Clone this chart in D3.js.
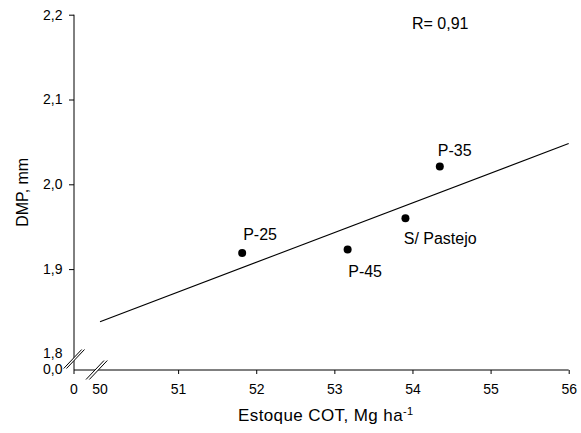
<!DOCTYPE html>
<html><head><meta charset="utf-8">
<script src="https://cdn.jsdelivr.net/npm/d3@7"></script>
<style>
body{margin:0;background:#fff}
text{font-family:"Liberation Sans",Arial,sans-serif;fill:#000}
</style>
</head><body>
<svg id="c" width="581" height="433"></svg>
<script>
// ---- data ----
const treatments = ["P-25", "P-45", "S/ Pastejo", "P-35"];
const cot = [51.82, 53.17, 53.91, 54.35];      // Estoque COT, Mg ha-1
const dmp = [1.919, 1.923, 1.960, 2.021];      // DMP, mm
const fitX = [50, 56];
const fitY = [1.838, 2.048];
const xTicks = [51, 52, 53, 54, 55, 56];
const yTicks = [1.9, 2.0, 2.1, 2.2];
const xBreakLabels = ["0", "50"];
const yBreakLabels = ["1,8", "0,0"];
const rLabel = "R= 0,91";
const xTitle = "Estoque COT, Mg ha";
const xTitleSup = "-1";
const yTitle = "DMP, mm";

// ---- layout (presentation only) ----
const pLeft = 74, pRight = 568.7, pTop = 14.7, axisY = 370;
const labelOffset = [[1, -12.7], [0.6, 27.4], [-1.7, 26], [-2, -10.7]];

const svg = d3.select("#c");
const x = d3.scaleLinear().domain([50, 56]).range([100, pRight]);
const y = d3.scaleLinear().domain([1.8, 2.2]).range([353.9, pTop]);
const fmt = d => d3.format(".1f")(d).replace(".", ",");

// axes lines
svg.append("line").attr("x1", pLeft).attr("x2", pLeft).attr("y1", pTop).attr("y2", axisY)
  .attr("stroke", "#000").attr("stroke-width", 1);
svg.append("line").attr("x1", pLeft).attr("x2", pRight).attr("y1", axisY).attr("y2", axisY)
  .attr("stroke", "#000").attr("stroke-width", 1);

// x axis
const gx = svg.append("g").attr("transform", `translate(0,${axisY})`)
  .call(d3.axisBottom(x).tickValues(xTicks).tickSize(4).tickPadding(10).tickFormat(d => d));
gx.select(".domain").remove();
gx.selectAll("text").style("font-size", "14px").attr("fill", "#000");
gx.selectAll("line").attr("stroke", "#000");
svg.append("line").attr("x1", pLeft).attr("x2", pLeft).attr("y1", axisY).attr("y2", axisY + 4).attr("stroke", "#000");
svg.append("text").attr("x", pLeft).attr("y", axisY + 24).attr("text-anchor", "middle")
  .style("font-size", "14px").text(xBreakLabels[0]);
svg.append("text").attr("x", x(50)).attr("y", axisY + 24).attr("text-anchor", "middle")
  .style("font-size", "14px").text(xBreakLabels[1]);

// y axis
const gy = svg.append("g").attr("transform", `translate(${pLeft},0)`)
  .call(d3.axisLeft(y).tickValues(yTicks).tickSize(5).tickPadding(6.5).tickFormat(fmt));
gy.select(".domain").remove();
gy.selectAll("text").style("font-size", "14px").attr("fill", "#000");
gy.selectAll("line").attr("stroke", "#000");
svg.append("text").attr("x", pLeft - 11.5).attr("y", y(1.8)).attr("dy", "0.32em").attr("text-anchor", "end")
  .style("font-size", "14px").text(yBreakLabels[0]);
svg.append("text").attr("x", pLeft - 11.5).attr("y", axisY).attr("dy", "0.32em").attr("text-anchor", "end")
  .style("font-size", "14px").text(yBreakLabels[1]);

// break marks
function breakMark(cx, cy, gap) {
  const g = svg.append("g");
  const dx = 9, dy = 9.5;
  g.append("polygon")
    .attr("points", [[cx - dx, cy + dy], [cx + dx, cy - dy], [cx + dx + gap, cy - dy], [cx - dx + gap, cy + dy]].map(p => p.join(",")).join(" "))
    .attr("fill", "#fff");
  [0, gap].forEach(o => g.append("line")
    .attr("x1", cx - dx + o).attr("y1", cy + dy).attr("x2", cx + dx + o).attr("y2", cy - dy)
    .attr("stroke", "#000").attr("stroke-width", 1));
}
breakMark(pLeft - 1.3, 359, 2.8);
breakMark(95, axisY, 3.3);

// regression line
svg.append("line")
  .attr("x1", x(fitX[0])).attr("y1", y(fitY[0]))
  .attr("x2", x(fitX[1])).attr("y2", y(fitY[1]))
  .attr("stroke", "#000").attr("stroke-width", 1.1);

// points
svg.selectAll("circle.pt").data(treatments).join("circle")
  .attr("class", "pt")
  .attr("cx", (d, i) => x(cot[i])).attr("cy", (d, i) => y(dmp[i]))
  .attr("r", 4).attr("fill", "#000");

svg.selectAll("text.lab").data(treatments).join("text")
  .attr("class", "lab")
  .attr("x", (d, i) => x(cot[i]) + labelOffset[i][0])
  .attr("y", (d, i) => y(dmp[i]) + labelOffset[i][1])
  .style("font-size", "16px").text(d => d);

// R label
svg.append("text").attr("x", 412).attr("y", 29.3).style("font-size", "16px").text(rLabel);

// titles
const xt = svg.append("text").attr("x", 238).attr("y", 421).style("font-size", "17px").style("letter-spacing", "0.4px");
xt.append("tspan").text(xTitle);
xt.append("tspan").attr("dy", -6).style("font-size", "11px").text(xTitleSup);

svg.append("text").attr("transform", `translate(28,${(pTop + axisY) / 2}) rotate(-90)`)
  .attr("text-anchor", "middle").style("font-size", "16px").text(yTitle);
</script>
</body></html>
